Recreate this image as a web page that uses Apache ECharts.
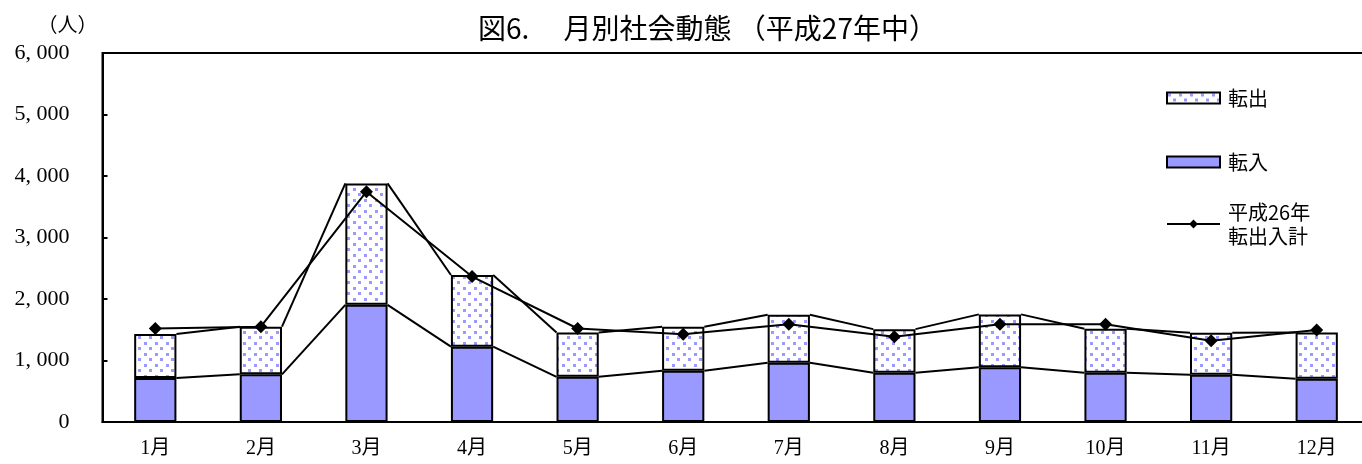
<!DOCTYPE html>
<html><head><meta charset="utf-8">
<script src="https://cdn.jsdelivr.net/npm/echarts@6/dist/echarts.min.js"></script>
<style>html,body{margin:0;padding:0;background:#fff}#c{width:1362px;height:464px}</style>
</head><body><div id="c"></div>
<script>
// ---- data ----
const months = ['1月','2月','3月','4月','5月','6月','7月','8月','9月','10月','11月','12月'];
const tennyu = [715, 775, 1905, 1225, 735, 835, 965, 800, 890, 800, 770, 705];      // 転入
const tenshutsu = [715, 775, 1975, 1165, 720, 715, 780, 710, 860, 715, 680, 750];   // 転出
const prevTotal = [1520, 1550, 3745, 2365, 1520, 1425, 1590, 1385, 1590, 1590, 1320, 1495]; // 平成26年転出入計
const yTickLabels = ['0', '1, 000', '2, 000', '3, 000', '4, 000', '5, 000', '6, 000'];

// ---- derived ----
const totals = tennyu.map((v, i) => v + tenshutsu[i]);
const seriesLineData = [];
for (let i = 0; i < months.length - 1; i++) {
  seriesLineData.push([i, tennyu[i], tennyu[i + 1], totals[i], totals[i + 1]]);
}

// dotted pattern
const pc = document.createElement('canvas');
pc.width = 11; pc.height = 11;
const g = pc.getContext('2d');
g.fillStyle = '#ffffff'; g.fillRect(0, 0, 11, 11);
g.fillStyle = '#9999ff';
g.fillRect(1, 1, 3, 3);
g.fillRect(6, 6, 3, 3);

const serifFont = "'Liberation Serif', 'Noto Sans CJK JP', serif";
const cjkFont = "'Noto Sans CJK JP', sans-serif";
const BAR_RATIO = 0.4;

const chart = echarts.init(document.getElementById('c'));
chart.setOption({
  animation: false,
  backgroundColor: '#fff',
  title: {
    text: '図6.\u3000 月別社会動態 （平成27年中）',
    left: 478, top: 14, padding: 0,
    textStyle: { fontFamily: cjkFont, fontSize: 28, fontWeight: 'normal', color: '#000' }
  },
  legend: [
    {
      data: [{ name: '転出', icon: 'rect' }, { name: '転入', icon: 'rect' }],
      orient: 'vertical', left: 1166, top: 88, padding: 0,
      itemWidth: 53, itemHeight: 11, itemGap: 44,
      textStyle: { fontFamily: cjkFont, fontSize: 20, lineHeight: 20, color: '#000', padding: [0, 0, 0, 3] }
    },
    {
      data: [{ name: '平成26年転出入計' }],
      formatter: () => '平成26年\n転出入計',
      orient: 'vertical', left: 1166, top: 184, padding: 0,
      itemWidth: 53, itemHeight: 11,
      textStyle: { fontFamily: cjkFont, fontSize: 20, lineHeight: 24, color: '#000', padding: [32, 0, 0, 3] }
    }
  ],
  grid: { left: 102.5, top: 53, width: 1267, height: 369, show: true, borderColor: '#000', borderWidth: 2,
    containLabel: false, outerBoundsMode: 'none' },
  xAxis: {
    type: 'category', data: months,
    axisLine: { lineStyle: { color: '#000', width: 2 } },
    axisTick: { show: false },
    axisLabel: { color: '#000', fontFamily: serifFont, fontSize: 20, margin: 17 }
  },
  yAxis: {
    type: 'value', min: 0, max: 6000, interval: 1000,
    name: '（人）', nameLocation: 'end', nameGap: 29,
    nameTextStyle: { fontFamily: cjkFont, fontSize: 20, color: '#000', align: 'right', verticalAlign: 'middle', padding: [0, 5, 0, 0] },
    axisLine: { show: true, lineStyle: { color: '#000', width: 2 } },
    axisTick: { show: true, inside: true, length: 5, lineStyle: { color: '#000', width: 2 } },
    splitLine: { show: false },
    axisLabel: { color: '#000', fontFamily: serifFont, fontSize: 22, margin: 33,
      formatter: v => yTickLabels[Math.round(v / 1000)] }
  },
  series: [
    {
      name: '転入', type: 'bar', stack: 's', data: tennyu, barWidth: (BAR_RATIO * 100) + '%',
      itemStyle: { color: '#9999ff', borderColor: '#000', borderWidth: 2 }
    },
    {
      name: '転出', type: 'bar', stack: 's', data: tenshutsu, barWidth: (BAR_RATIO * 100) + '%',
      itemStyle: { color: { image: pc, repeat: 'repeat' }, borderColor: '#000', borderWidth: 2 }
    },
    {
      name: '系列線', type: 'custom', data: seriesLineData,
      encode: { x: 0, y: [1, 2, 3, 4] }, z: 3, silent: true,
      renderItem: function (params, api) {
        const i = api.value(0);
        const w = api.size([1, 0])[0] * BAR_RATIO;
        const children = [];
        [[1, 2], [3, 4]].forEach(([a, b]) => {
          const p0 = api.coord([i, api.value(a)]);
          const p1 = api.coord([i + 1, api.value(b)]);
          children.push({
            type: 'line',
            shape: { x1: p0[0] + w / 2, y1: p0[1], x2: p1[0] - w / 2, y2: p1[1] },
            style: { stroke: '#000', lineWidth: 2 }
          });
        });
        return { type: 'group', children };
      }
    },
    {
      name: '平成26年転出入計', type: 'line', data: prevTotal, z: 4,
      symbol: 'diamond', symbolSize: 13,
      itemStyle: { color: '#000' },
      lineStyle: { color: '#000', width: 2 }
    }
  ]
});
</script>
</body></html>
